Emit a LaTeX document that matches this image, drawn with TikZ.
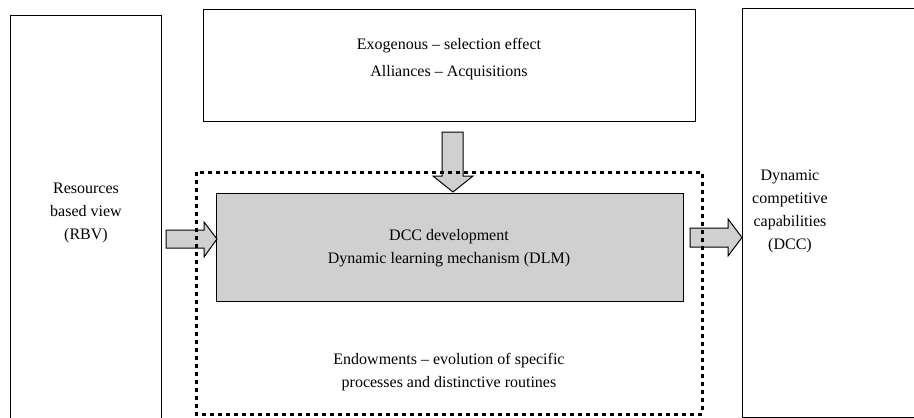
\documentclass[tikz,border=0pt]{standalone}
\usepackage{fontspec}
\setmainfont{Liberation Serif}
\definecolor{boxgray}{HTML}{D0D0D0}
\begin{document}
\begin{tikzpicture}[x=1pt,y=-1pt,
  frame/.style={draw=black,line width=1pt},
  txt/.style={font=\fontsize{16}{23}\selectfont,align=center,inner sep=0pt},
  fatarrow/.style={draw=black,line width=1pt,fill=boxgray,line join=miter},
  dotframe/.style={draw=black,line width=3pt,dash pattern=on 4pt off 4pt}]
\useasboundingbox (0,0) rectangle (914,418);
\begin{scope}
\clip (0,0) rectangle (914,418);
% outer boxes
\draw[frame] (10,430) -- (10,15) -- (161,15) -- (161,430);
\draw[frame] (930,417) -- (742,417) -- (742,8) -- (930,8);
\draw[frame] (203,9) rectangle (695,121);
\node[txt,font=\fontsize{16}{27}\selectfont] (exo) at (449,59) {Exogenous -- selection effect\\Alliances -- Acquisitions};
\node[txt] (rbv) at (86,213) {Resources\\based view\\(RBV)};
\node[txt] (dcc) at (790,211) {Dynamic\\competitive\\capabilities\\(DCC)};
% gray box
\draw[frame,fill=boxgray] (216,193) rectangle (683,301);
\node[txt] (dlm) at (449,248) {DCC development\\Dynamic learning mechanism (DLM)};
\node[txt] (endow) at (449,372) {Endowments -- evolution of specific\\processes and distinctive routines};
% arrows
\draw[fatarrow] (166,230) -- (204,230) -- (204,222) -- (217,239) -- (204,257) -- (204,248) -- (166,248) -- cycle;
\draw[fatarrow] (690,228) -- (728,228) -- (728,219) -- (742,237.5) -- (728,256) -- (728,247) -- (690,247) -- cycle;
\draw[fatarrow] (442,132) -- (463,132) -- (463,176) -- (473,176) -- (453,192) -- (433,176) -- (442,176) -- cycle;
% dotted frame
\draw[dotframe] (196,172) rectangle (702,414);
\end{scope}
\end{tikzpicture}
\end{document}
